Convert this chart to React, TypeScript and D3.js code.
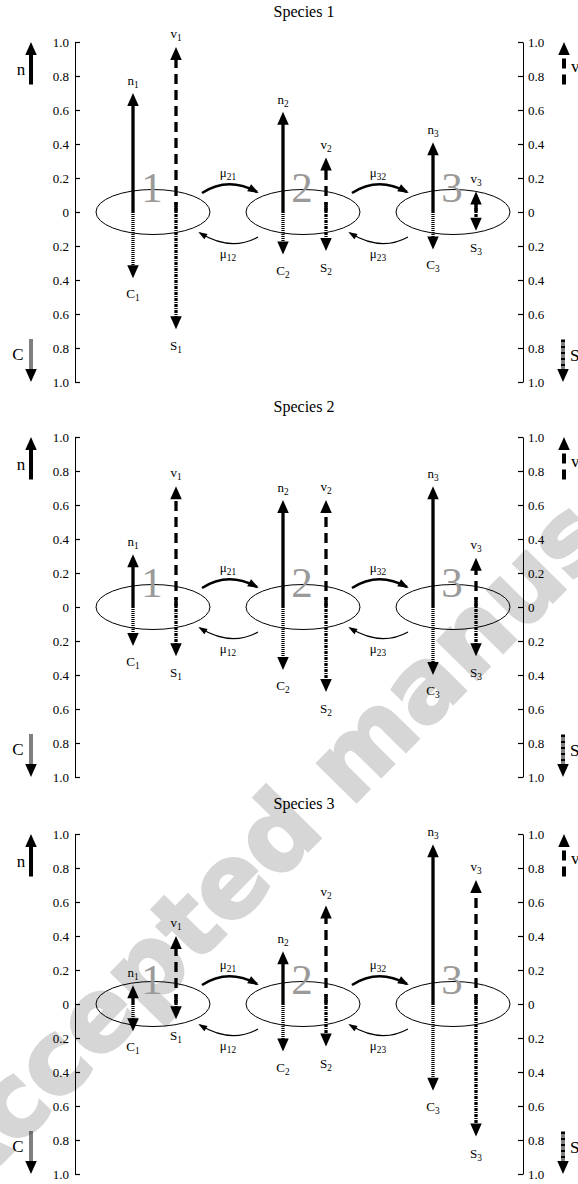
import React, { useEffect, useRef } from 'react';
import * as d3 from 'd3';

const patches = ['1', '2', '3'];
const speciesTitles = ['Species 1', 'Species 2', 'Species 3'];
// one row per species, one value per patch
const nValues = [
  [0.70, 0.59, 0.41],
  [0.31, 0.63, 0.71],
  [0.11, 0.31, 0.94],
];
const cValues = [
  [0.39, 0.25, 0.22],
  [0.23, 0.37, 0.40],
  [0.16, 0.28, 0.51],
];
const vValues = [
  [0.97, 0.32, 0.12],
  [0.71, 0.63, 0.29],
  [0.40, 0.58, 0.73],
];
const sValues = [
  [0.69, 0.23, 0.11],
  [0.29, 0.50, 0.29],
  [0.09, 0.25, 0.78],
];
const axisTicks = [-1, -0.8, -0.6, -0.4, -0.2, 0, 0.2, 0.4, 0.6, 0.8, 1];
const forwardRates = ['21', '32'];
const backRates = ['12', '23'];
const legendSpan = [0.75, 1.0];

const App: React.FC = () => {
  const svgRef = useRef<SVGSVGElement>(null);

  useEffect(() => {
    if (!svgRef.current) return;
    const svg = d3.select(svgRef.current);
    svg.selectAll('*').remove();

    const serif = "Liberation Serif, Times New Roman, DejaVu Serif, serif";
    const axisLeftX = 75;
    const axisRightX = 523;
    const panelZero = [212, 607, 1004];
    const half = 170;
    const x = d3.scalePoint<string>().domain(patches).range([153, 453]);
    const nOff = -20; // n / C arrows left of the patch centre
    const vOff = 23;  // v / S arrows right of it

    // --- watermark ---
    svg.append('text')
      .attr('transform', 'translate(-40,1205) rotate(-45.5)')
      .attr('font-family', "DejaVu Sans, sans-serif")
      .attr('font-weight', 'bold')
      .attr('font-size', 100)
      .attr('fill', '#d6d6d6')
      .attr('stroke', '#d6d6d6')
      .attr('stroke-width', 3)
      .text('Accepted manuscript');

    const arrow = (g: any, ax: number, yBase: number, yTip: number, dash: string | null, headLen = 13, headW = 11.5, sw = 3.3) => {
      const dir = yTip < yBase ? -1 : 1;
      const shaftEnd = yTip - dir * headLen;
      if ((shaftEnd - yBase) * dir > 0) {
        const l = g.append('line')
          .attr('x1', ax).attr('x2', ax)
          .attr('y1', yBase).attr('y2', shaftEnd + dir * 1)
          .attr('stroke', '#000').attr('stroke-width', sw);
        if (dash) l.attr('stroke-dasharray', dash);
      }
      g.append('path')
        .attr('d', `M${ax},${yTip} L${ax - headW / 2},${shaftEnd} L${ax + headW / 2},${shaftEnd} Z`)
        .attr('fill', '#000');
    };

    const label = (g: any, lx: number, ly: number, main: string, sub: string, anchor = 'middle', size = 13) => {
      const t = g.append('text')
        .attr('x', lx).attr('y', ly)
        .attr('text-anchor', anchor)
        .attr('font-family', serif)
        .attr('font-size', size);
      t.append('tspan').text(main);
      if (sub) t.append('tspan').attr('font-size', size * 0.72).attr('dy', 3).text(sub);
    };

    const curve = (g: any, s: number[], c: number[], e: number[], sw: number, hl: number, hw: number) => {
      g.append('path')
        .attr('d', `M${s[0]},${s[1]} Q${c[0]},${c[1]} ${e[0]},${e[1]}`)
        .attr('fill', 'none').attr('stroke', '#000').attr('stroke-width', sw);
      const dx = e[0] - c[0], dy = e[1] - c[1];
      const len = Math.hypot(dx, dy);
      const ux = dx / len, uy = dy / len;
      const bx = e[0] - ux * hl, by = e[1] - uy * hl;
      g.append('path')
        .attr('d', `M${e[0] + ux * 2},${e[1] + uy * 2} L${bx - uy * hw / 2},${by + ux * hw / 2} L${bx + uy * hw / 2},${by - ux * hw / 2} Z`)
        .attr('fill', '#000');
    };

    const fmt = (d: number) => (d === 0 ? '0' : d3.format('.1f')(Math.abs(d)));

    panelZero.forEach((z, si) => {
      const y = d3.scaleLinear().domain([-1, 1]).range([z + half, z - half]);
      const g = svg.append('g');

      g.append('text')
        .attr('x', 304).attr('y', z - 195)
        .attr('text-anchor', 'middle')
        .attr('font-family', serif).attr('font-size', 16)
        .text(speciesTitles[si]);

      // axes
      const left = g.append('g')
        .attr('transform', `translate(${axisLeftX},0)`)
        .call(d3.axisLeft(y).tickValues(axisTicks).tickFormat(fmt as any).tickSizeInner(-5).tickSizeOuter(0).tickPadding(6));
      const right = g.append('g')
        .attr('transform', `translate(${axisRightX},0)`)
        .call(d3.axisRight(y).tickValues(axisTicks).tickFormat(fmt as any).tickSizeInner(-5).tickSizeOuter(0).tickPadding(5));
      [left, right].forEach(a => {
        a.attr('font-family', serif).attr('font-size', 13);
        a.selectAll('line').attr('stroke-width', 1.2);
      });

      // patches
      patches.forEach(p => {
        g.append('ellipse')
          .attr('cx', x(p)!).attr('cy', y(0))
          .attr('rx', 57).attr('ry', 22.5)
          .attr('fill', 'none').attr('stroke', '#000').attr('stroke-width', 1);
        g.append('text')
          .attr('x', x(p)! - 1).attr('y', y(0) - 10)
          .attr('text-anchor', 'middle')
          .attr('font-family', serif).attr('font-size', 43)
          .attr('fill', '#9a9a9a')
          .text(p);
      });

      // migration arrows
      forwardRates.forEach((r, i) => {
        const x1 = x(patches[i])!, x2 = x(patches[i + 1])!;
        const mid = (x1 + x2) / 2;
        curve(g, [x1 + 49, z - 19], [mid, z - 36], [x2 - 46, z - 20], 2.6, 9, 8);
        label(g, mid, z - 35, 'μ', r);
        curve(g, [x2 - 45, z + 25], [mid + 3, z + 40], [x1 + 47, z + 21], 1.1, 7, 6);
        label(g, mid, z + 46, 'μ', backRates[i]);
      });

      // state arrows
      patches.forEach((p, pi) => {
        const nx = x(p)! + nOff;
        const vx = x(p)! + vOff;
        const n = nValues[si][pi], c = cValues[si][pi], v = vValues[si][pi], s = sValues[si][pi];
        arrow(g, nx, y(0), y(n), null);
        arrow(g, nx, y(0), y(-c), '1,1');
        arrow(g, vx, y(0), y(v), '10,6');
        arrow(g, vx, y(0) - 10, y(-s), '3,1,1,1');
        label(g, nx, y(n) - 8, 'n', p);
        label(g, vx, y(v) - 9, 'v', p);
        label(g, nx, y(-c) + 20, 'C', p);
        label(g, vx, y(-s) + 21, 'S', p);
      });

      // legends
      arrow(g, 31, y(legendSpan[0]), y(legendSpan[1]), null, 13, 11.5, 4);
      label(g, 21, z - 137, 'n', '', 'middle', 17);
      arrow(g, 31, y(-legendSpan[0]), y(-legendSpan[1]), '1,1', 13, 11.5, 4);
      label(g, 18, z + 148, 'C', '', 'middle', 17);
      arrow(g, 564, y(legendSpan[0]), y(legendSpan[1]), '10,6', 13, 11.5, 4);
      label(g, 571, z - 140, 'v', '', 'start', 17);
      arrow(g, 563, y(-legendSpan[0]), y(-legendSpan[1]), '3,1,1,1', 13, 11.5, 4);
      label(g, 570, z + 149, 'S', '', 'start', 17);
    });
  }, []);

  return (
    <svg
      ref={svgRef}
      width={578}
      height={1184}
      style={{ position: 'absolute', left: 0, top: 0, background: '#fff' }}
    />
  );
};

export default App;
